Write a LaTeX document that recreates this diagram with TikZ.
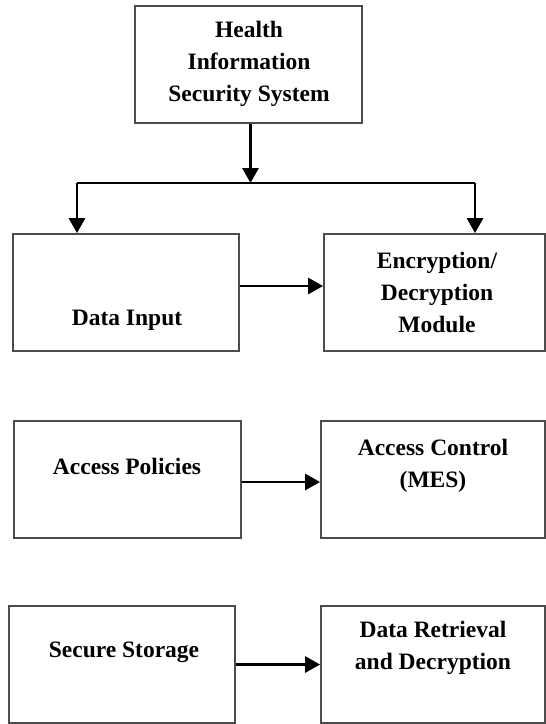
\documentclass[tikz,border=0pt]{standalone}
\usepackage{fontspec}
\setmainfont{Liberation Serif}
\usetikzlibrary{positioning,arrows.meta}
\tikzset{
  box/.style={draw=black!70,line width=1.8pt,minimum height=117pt,inner sep=0pt},
  lbl/.style={font=\fontsize{23.5}{32}\selectfont\bfseries,align=center,inner sep=0pt},
  arr/.style={line width=2.8pt,-{Triangle[length=15pt,width=16pt]}},
  >=Stealth,
}
\begin{document}
\begin{tikzpicture}[x=1pt,y=-1pt]
  \useasboundingbox (0,0) rectangle (546,724);
  \node[box,minimum width=227pt] (hiss) at (248.5,64.5)  {};
  \node[box,minimum width=226pt] (di)   at (126,292.5)   {};
  \node[box,minimum width=221pt] (enc)  at (434.5,292.5) {};
  \node[box,minimum width=227pt] (ap)   at (127.5,479.5) {};
  \node[box,minimum width=224pt] (ac)   at (433,479.5)   {};
  \node[box,minimum width=226pt] (ss)   at (122,664.5)   {};
  \node[box,minimum width=224pt] (dr)   at (433,664.5)   {};
  \node[lbl] (hissT) at (249,64)  {Health\\Information\\Security System};
  \node[lbl] (diT)   at (127,320) {Data Input};
  \node[lbl] (encT)  at (437,292) {Encryption/\\Decryption\\Module};
  \node[lbl] (apT)   at (127,466) {Access Policies};
  \node[lbl] (acT)   at (433,466) {Access Control\\(MES)};
  \node[lbl] (ssT)   at (124,652) {Secure Storage};
  \node[lbl] (drT)   at (433,647.5) {Data Retrieval\\and Decryption};
  % split under the top box
  \coordinate (mid) at (250.5,183);
  \coordinate (jl)  at (77,183);
  \coordinate (jr)  at (475,183);
  \draw[arr] (hiss.south -| mid) -- (mid);
  \draw[line width=2pt] (jl) -- (jr);
  \draw[arr] (jl) -- (jl |- di.north);
  \draw[arr] (jr) -- (jr |- enc.north);
  \draw[arr] ([yshift=6.5pt]di.east) -- ([yshift=6.5pt]di.east -| enc.west);
  \draw[arr] ([yshift=-2.5pt]ap.east) -- ([yshift=-2.5pt]ap.east -| ac.west);
  \draw[arr] (ss.east) -- (ss.east -| dr.west);
\end{tikzpicture}
\end{document}
